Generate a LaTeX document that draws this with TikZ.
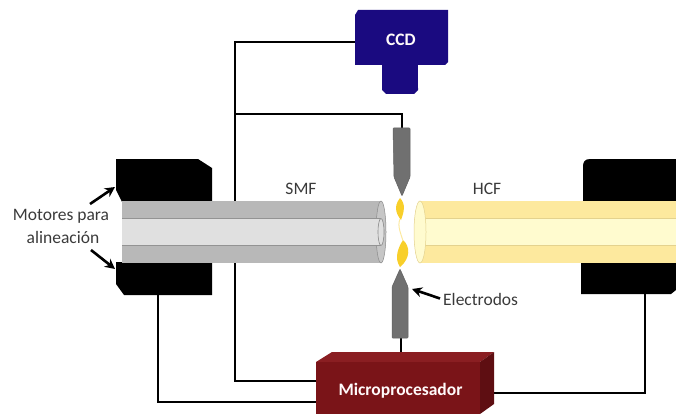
\documentclass[tikz,border=0pt]{standalone}
\usepackage{fontspec}
\setmainfont{Carlito}
\usetikzlibrary{arrows.meta}
\definecolor{ccdblue}{HTML}{1A0A80}
\definecolor{micro}{HTML}{7A1418}
\definecolor{microtop}{HTML}{8A1E22}
\definecolor{microside}{HTML}{5E0E12}
\definecolor{smfdark}{HTML}{B8B8B8}
\definecolor{smflight}{HTML}{E0E0E0}
\definecolor{hcfdark}{HTML}{FDE99E}
\definecolor{hcflight}{HTML}{FFFBCF}
\definecolor{electrode}{HTML}{707070}
\definecolor{spark}{HTML}{F8CF2A}
\definecolor{labelgray}{HTML}{3A3A3A}
\tikzset{
  wire/.style={line width=2.6pt,black},
  pointer/.style={line width=2.6pt,black,-{Stealth[length=10pt,width=10pt]}},
  motor/.style={fill=black,draw=none},
  lbl/.style={font=\fontsize{17.5}{20}\selectfont,text=labelgray,inner sep=0pt},
  boxlbl/.style={font=\fontsize{17.5}{20}\selectfont\bfseries,text=white!92!pink,inner sep=0pt},
  electrodeshape/.style={fill=electrode,draw=electrode!85!black,line width=.5pt,rounded corners=.8pt},
}
\begin{document}
\begin{tikzpicture}[x=1pt,y=-1pt]
\useasboundingbox (0,0) rectangle (676,414);
% junctions
\coordinate (ccdport) at (356,42);
\coordinate (cornerA) at (235,42);
\coordinate (cornerB) at (235,381);
\coordinate (mport1) at (317,381);
\coordinate (junction) at (235,114);
\coordinate (cornerC) at (402,114);
\coordinate (etop) at (402,128);
\coordinate (ebot) at (401,338);
\coordinate (mtop) at (401,353);
\coordinate (mlA) at (158,294);
\coordinate (mlB) at (158,402);
\coordinate (mport2) at (317,402);
\coordinate (mport3) at (493,393);
\coordinate (mrB) at (645,393);
\coordinate (mrA) at (645,294);
% wires
\draw[wire] (ccdport) -- (cornerA) -- (cornerB) -- (mport1);
\draw[wire] (junction) -- (cornerC) -- (etop);
\draw[wire] (ebot) -- (mtop);
\draw[wire] (mlA) -- (mlB) -- (mport2);
\draw[wire] (mport3) -- (mrB) -- (mrA);
% motors
\fill[motor] (116,159) -- (198,159) -- (212,168) -- (212,202) -- (122,202) -- (116,190) -- cycle;
\fill[motor] (116,262) -- (212,262) -- (212,295) -- (124,295) -- (116,284) -- cycle;
\fill[motor] (676,159) -- (590,159) .. controls (585,159) and (583,162) .. (583,166) -- (583,202) -- (676,202) -- cycle;
\fill[motor] (581,262) -- (676,262) -- (676,290) -- (671,294) -- (581,294) -- cycle;
% SMF
\fill[smfdark] (122,201) rectangle (381,263);
\fill[smfdark!80!white,draw=smfdark!75!black,line width=.5pt] (381,232) ellipse [x radius=5,y radius=31];
\fill[smflight] (122,218) rectangle (381,245);
\draw[smfdark!80!black,line width=.5pt] (122,218) -- (381,218) (122,245) -- (381,245);
\draw[smfdark!75!black,fill=smflight,line width=.6pt] (381,232) ellipse [x radius=3,y radius=13.5];
% HCF
\fill[hcfdark] (420,201) rectangle (676,263);
\fill[hcflight] (424,218) rectangle (676,245);
\draw[hcfdark!90!black,line width=.4pt] (424,218) -- (676,218) (424,245) -- (676,245);
\draw[hcfdark!90!black,line width=.5pt,fill=hcflight] (420,232) ellipse [x radius=6,y radius=31];
% electrodes
\path[electrodeshape] (393,128) -- (410,128) -- (410,177) -- (402,196) -- (394,177) -- cycle;
\path[electrodeshape] (392,338) -- (408,338) -- (408,287) -- (400,269) -- (392,287) -- cycle;
% spark
\fill[spark] (400,198) .. controls (406,204) and (404,212) .. (401,220) .. controls (398,216) and (392,208) .. (400,198) -- cycle;
\fill[spark] (400,267) .. controls (394,258) and (398,248) .. (403,240) .. controls (410,246) and (411,258) .. (400,267) -- cycle;
\draw[spark!45!white,line width=1pt] (400,219) .. controls (397,226) and (401,234) .. (403,241);
% CCD
\fill[ccdblue] (382,60) rectangle (418,90);
\fill[ccdblue] (382,88) -- (418,88) -- (418,90) -- (414,94) -- (386,94) -- (382,90) -- cycle;
\fill[ccdblue] (358,10) -- (448,10) -- (448,62) -- (445,65) -- (355,65) -- (355,15) -- cycle;
\node[boxlbl] (ccd) at (401,39.5) {CCD};
% microprocessor
\fill[microtop] (316,362) -- (332,352) -- (494,352) -- (480,362) -- cycle;
\fill[microside] (480,362) -- (494,352) -- (494,404) -- (480,414) -- cycle;
\fill[micro] (316,362) rectangle (480,414);
\node[boxlbl] (mp) at (400.5,391) {Microprocesador};
% labels
\node[lbl] (smf) at (301,189) {SMF};
\node[lbl] (hcf) at (487,189) {HCF};
\node[lbl] (mot1) at (61,216) {Motores para};
\node[lbl] (mot2) at (63,237.5) {alineación};
\node[lbl,anchor=west] (elec) at (443,299.5) {Electrodos};
% pointers
\coordinate (motorT) at (115,187);
\coordinate (motorTs) at (90,204);
\coordinate (motorB) at (115,269);
\coordinate (motorBs) at (91,250);
\coordinate (elecTip) at (412,289);
\draw[pointer] (motorTs) -- (motorT);
\draw[pointer] (motorBs) -- (motorB);
\draw[pointer] (elec.west) ++(-3,-1) -- (elecTip);
\end{tikzpicture}
\end{document}
